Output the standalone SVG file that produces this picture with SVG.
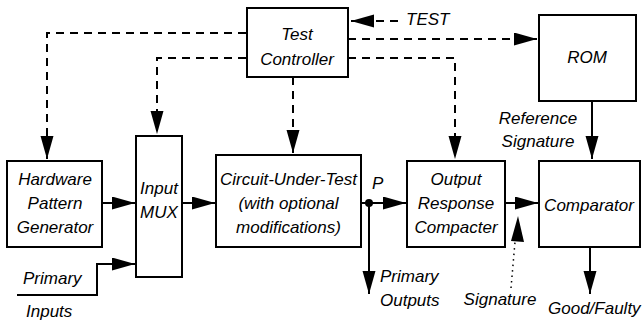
<svg xmlns="http://www.w3.org/2000/svg" width="642" height="327" viewBox="0 0 642 327">
<defs>
<marker id="ah" markerUnits="userSpaceOnUse" markerWidth="25" markerHeight="14" refX="23" refY="6.5" orient="auto">
<path d="M0,0 L23,6.5 L0,13 z" fill="#000"/>
</marker>
<style>
.box{fill:#fff;stroke:#000;stroke-width:2}
.ln{fill:none;stroke:#000;stroke-width:2}
.dash{fill:none;stroke:#000;stroke-width:2;stroke-dasharray:8 6}
.dot{fill:none;stroke:#000;stroke-width:1.5;stroke-dasharray:1.5 4}
text{font-family:"Liberation Sans",Arial,sans-serif;font-style:italic;font-size:17px;fill:#000}
.c{text-anchor:middle}
</style>
</defs>
<rect width="642" height="327" fill="#fff"/>
<g id="connectors">
<path class="dash" d="M246,33 H47 V159" marker-end="url(#ah)"/>
<path class="dash" d="M246,58 H157 V134" marker-end="url(#ah)"/>
<path class="dash" d="M293,77 V153" marker-end="url(#ah)"/>
<path class="dash" d="M348,39 H537" marker-end="url(#ah)"/>
<path class="dash" d="M348,58 H455 V159" marker-end="url(#ah)"/>
<path class="dash" d="M398,21 H351" marker-end="url(#ah)"/>
<path class="ln" d="M592,101 V159" marker-end="url(#ah)"/>
<path class="ln" d="M102,203 H135" marker-end="url(#ah)"/>
<path class="ln" d="M17,295 H97 V264 H135" marker-end="url(#ah)"/>
<path class="ln" d="M182,203 H215" marker-end="url(#ah)"/>
<path class="ln" d="M361,203 H406" marker-end="url(#ah)"/>
<path class="ln" d="M369,203 V294" marker-end="url(#ah)"/>
<circle cx="369" cy="203" r="4" fill="#000"/>
<path class="ln" d="M505,203 H538" marker-end="url(#ah)"/>
<path class="ln" d="M590,247 V294" marker-end="url(#ah)"/>
<path class="dot" d="M511,288 L515,242"/>
<path d="M518,216 L524,242 L511,241 z" fill="#000"/>
</g>
<g id="test-controller">
<rect class="box" x="247" y="8" width="101" height="69"/>
<text class="c" x="297" y="40">Test</text>
<text class="c" x="297" y="65">Controller</text>
</g>
<g id="rom">
<rect class="box" x="539" y="15" width="97" height="86"/>
<text class="c" x="587" y="63">ROM</text>
</g>
<g id="hpg">
<rect class="box" x="7" y="161" width="95" height="86"/>
<text class="c" x="55" y="185">Hardware</text>
<text class="c" x="55" y="209">Pattern</text>
<text class="c" x="55" y="233">Generator</text>
</g>
<g id="input-mux">
<rect class="box" x="136" y="136" width="46" height="141"/>
<text class="c" x="159" y="194">Input</text>
<text class="c" x="159" y="218">MUX</text>
</g>
<g id="cut">
<rect class="box" x="216" y="155" width="145" height="92"/>
<text class="c" x="288.5" y="185">Circuit-Under-Test</text>
<text class="c" x="288.5" y="209">(with optional</text>
<text class="c" x="288.5" y="233">modifications)</text>
</g>
<g id="orc">
<rect class="box" x="407" y="161" width="98" height="86"/>
<text class="c" x="456" y="185">Output</text>
<text class="c" x="456" y="209">Response</text>
<text class="c" x="456" y="233">Compacter</text>
</g>
<g id="comparator">
<rect class="box" x="539" y="161" width="101" height="86"/>
<text class="c" x="589" y="211">Comparator</text>
</g>
<g id="labels">
<text x="406" y="25">TEST</text>
<text class="c" x="538" y="124">Reference</text>
<text class="c" x="538" y="147">Signature</text>
<text x="372" y="189">P</text>
<text x="380" y="282">Primary</text>
<text x="380" y="306">Outputs</text>
<text class="c" x="500" y="305">Signature</text>
<text x="548" y="314">Good/Faulty</text>
<text x="23" y="284">Primary</text>
<text x="26" y="317">Inputs</text>
</g>
</svg>
